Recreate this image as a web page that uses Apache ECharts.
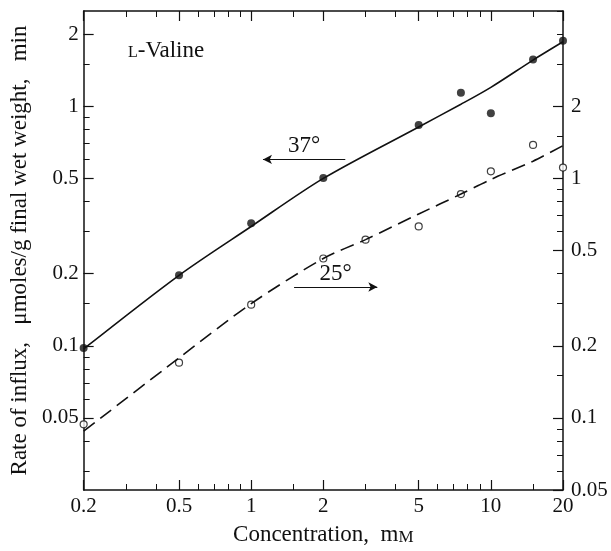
<!DOCTYPE html>
<html>
<head>
<meta charset="utf-8">
<script src="https://cdn.jsdelivr.net/npm/echarts@6/dist/echarts.min.js"></script>
<style>
  html, body { margin: 0; padding: 0; background: #fff; }
  #chart { width: 611px; height: 551px; }
</style>
</head>
<body>
<div id="chart"></div>
<script>
// measured points, 37° (left axis, µmoles/g/min)
const conc37 = [0.2, 0.5, 1, 2, 5, 7.5, 10, 15, 20];
const rate37 = [0.098, 0.197, 0.325, 0.502, 0.836, 1.14, 0.936, 1.57, 1.88];
// measured points, 25° (right axis)
const conc25 = [0.2, 0.5, 1, 2, 3, 5, 7.5, 10, 15, 20];
const rate25 = [0.094, 0.17, 0.297, 0.463, 0.555, 0.63, 0.86, 1.07, 1.38, 1.11];
// fitted curves as drawn
const curveConc37 = [0.2, 0.5, 1, 2, 5, 7.5, 10, 15, 20];
const curve37 = [0.097, 0.197, 0.315, 0.5, 0.82, 1.02, 1.2, 1.56, 1.86];
const curveConc25 = [0.2, 0.5, 1, 2, 3, 5, 7.5, 10, 15, 20];
const curve25 = [0.088, 0.178, 0.3, 0.463, 0.555, 0.71, 0.86, 0.99, 1.18, 1.37];
// tick labels
const xTicks = [0.2, 0.5, 1, 2, 5, 10, 20];
const leftTicks = [0.05, 0.1, 0.2, 0.5, 1, 2];
const rightTicks = [0.05, 0.1, 0.2, 0.5, 1, 2];
const xRange = [0.2, 20];
const leftRange = [0.025, 2.5];
const rightRange = [0.05, 5];

const lg = Math.log10;
const FONT = "'Liberation Serif', 'DejaVu Serif', serif";
const INK = "#111";

// minor ticks: 1..9 (and 1.5) times each power of ten inside a range
function minorTicks(lo, hi) {
  const out = [];
  for (let k = -3; k <= 2; k++) {
    [1, 1.5, 2, 3, 4, 5, 6, 7, 8, 9].forEach((m) => {
      const v = m * Math.pow(10, k);
      if (v >= lo * 0.999 && v <= hi * 1.001) out.push(lg(v));
    });
  }
  return out;
}
const fmt = (v) => String(+Math.pow(10, v).toPrecision(2));
const pairs = (xs, ys) => xs.map((x, i) => [lg(x), lg(ys[i])]);

function axisBase(range, extra) {
  return Object.assign({
    type: "value",
    min: lg(range[0]),
    max: lg(range[1]),
    splitLine: { show: false },
    axisLine: { show: true, onZero: false, lineStyle: { color: INK, width: 1.5 } },
  }, extra);
}
function majorAxis(range, ticks, extra) {
  return axisBase(range, Object.assign({
    axisTick: { show: true, inside: true, length: 10, customValues: ticks.map(lg), lineStyle: { color: INK, width: 1.2 } },
    axisLabel: { show: true, customValues: ticks.map(lg), formatter: fmt, fontFamily: FONT, fontSize: 21, color: INK },
  }, extra));
}
function minorAxis(range, extra) {
  return axisBase(range, Object.assign({
    axisLine: { show: false, onZero: false },
    axisTick: { show: true, inside: true, length: 6, customValues: minorTicks(range[0], range[1]), lineStyle: { color: INK, width: 1 } },
    axisLabel: { show: false },
  }, extra));
}

const chart = echarts.init(document.getElementById("chart"));
chart.setOption({
  animation: false,
  backgroundColor: "#fff",
  title: {
    text: "{sc|L}-Valine",
    left: 123,
    top: 34,
    textStyle: {
      fontFamily: FONT, fontSize: 23, fontWeight: "normal", color: INK,
      rich: { sc: { fontFamily: FONT, fontSize: 16, color: INK, verticalAlign: "bottom", padding: [0, 0, 1, 0] } },
    },
  },
  grid: { left: 83, right: 48, top: 11, bottom: 53 },
  xAxis: [
    majorAxis(xRange, xTicks, {
      position: "bottom",
      name: "Concentration,  m{sc|M}",
      nameLocation: "middle",
      nameGap: 33,
      nameTextStyle: {
        fontFamily: FONT, fontSize: 23, color: INK,
        rich: { sc: { fontFamily: FONT, fontSize: 17, color: INK, verticalAlign: "bottom" } },
      },
      axisLabel: { show: true, customValues: xTicks.map(lg), formatter: fmt, fontFamily: FONT, fontSize: 21, color: INK, margin: 6 },
    }),
    minorAxis(xRange, { position: "bottom" }),
    majorAxis(xRange, xTicks, { position: "top", axisLabel: { show: false } }),
    minorAxis(xRange, { position: "top" }),
  ],
  yAxis: [
    majorAxis(leftRange, leftTicks, {
      position: "left",
      name: "Rate of influx,   \u03bcmoles/g final wet weight,   min",
      nameLocation: "middle",
      nameGap: 52,
      nameTextStyle: { fontFamily: FONT, fontSize: 23, color: INK },
      axisLabel: { show: true, customValues: leftTicks.map(lg), formatter: fmt, fontFamily: FONT, fontSize: 21, color: INK, margin: 5 },
    }),
    minorAxis(leftRange, { position: "left" }),
    majorAxis(rightRange, rightTicks, {
      position: "right",
      axisLabel: { show: true, customValues: rightTicks.map(lg), formatter: fmt, fontFamily: FONT, fontSize: 21, color: INK, margin: 8 },
    }),
    minorAxis(rightRange, { position: "right" }),
  ],
  series: [
    {
      name: "37° curve",
      type: "line",
      xAxisIndex: 0,
      yAxisIndex: 0,
      data: pairs(curveConc37, curve37),
      smooth: 0.3,
      showSymbol: false,
      lineStyle: { color: INK, width: 1.6 },
      markLine: {
        silent: true,
        symbol: ["arrow", "none"],
        symbolSize: [7, 9],
        lineStyle: { color: INK, width: 1, type: "solid" },
        label: { show: true, position: "insideMiddleTop", formatter: "37°", fontFamily: FONT, fontSize: 23, color: INK, distance: 2 },
        data: [[{ coord: [lg(1.12), lg(0.6)] }, { coord: [lg(2.47), lg(0.6)] }]],
      },
    },
    {
      name: "25° curve",
      type: "line",
      xAxisIndex: 0,
      yAxisIndex: 2,
      data: pairs(curveConc25, curve25),
      smooth: 0.3,
      showSymbol: false,
      lineStyle: { color: INK, width: 1.6, type: [14, 7] },
      markLine: {
        silent: true,
        symbol: ["none", "arrow"],
        symbolSize: [7, 9],
        lineStyle: { color: INK, width: 1, type: "solid" },
        label: { show: true, position: "insideMiddleTop", formatter: "25°", fontFamily: FONT, fontSize: 23, color: INK, distance: 2 },
        data: [[{ coord: [lg(1.51), lg(0.352)] }, { coord: [lg(3.36), lg(0.352)] }]],
      },
    },
    {
      name: "37°",
      type: "scatter",
      xAxisIndex: 0,
      yAxisIndex: 0,
      clip: false,
      data: pairs(conc37, rate37),
      symbol: "circle",
      symbolSize: 8,
      itemStyle: { color: INK },
    },
    {
      name: "25°",
      type: "scatter",
      xAxisIndex: 0,
      yAxisIndex: 2,
      clip: false,
      data: pairs(conc25, rate25),
      symbol: "circle",
      symbolSize: 7,
      itemStyle: { color: "#fff", borderColor: INK, borderWidth: 1.2 },
    },
  ],
});
</script>
</body>
</html>
